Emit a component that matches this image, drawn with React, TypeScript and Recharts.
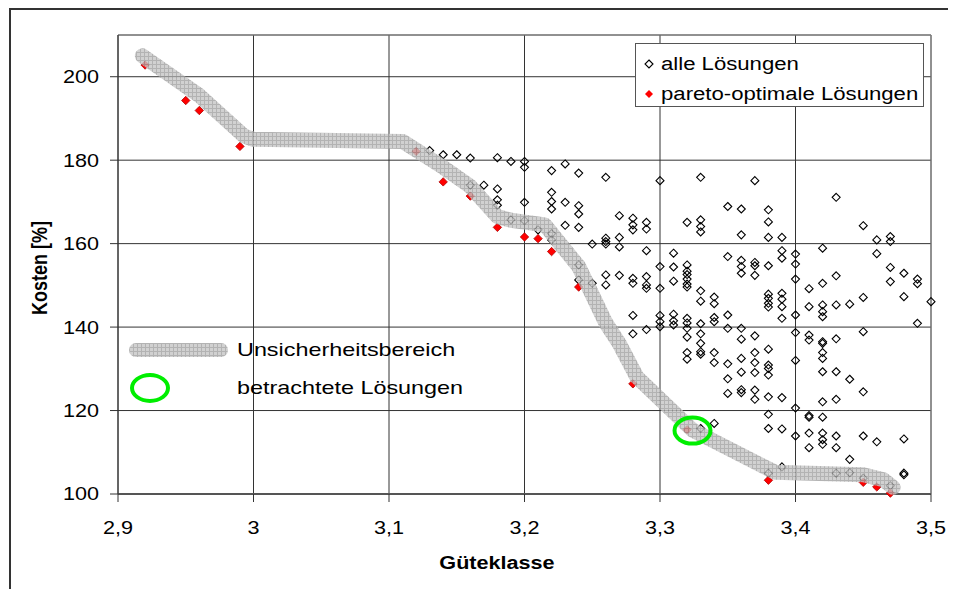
import React from "react";
import {
  ScatterChart,
  Scatter,
  XAxis,
  YAxis,
  CartesianGrid,
  ReferenceLine,
} from "recharts";

// Güteklasse / Kosten [%] aller berechneten Lösungen
const alleLoesungen: [number, number][] = [
  [3.13, 182.3], [3.14, 181.3], [3.15, 181.3], [3.16, 180.5], [3.16, 174], [3.17, 174],
  [3.18, 180.6], [3.18, 173.1], [3.18, 170.5], [3.18, 169.2],
  [3.19, 179.7], [3.19, 165.7],
  [3.2, 179.7], [3.2, 178.3], [3.2, 169.9], [3.2, 165.5],
  [3.21, 163.3],
  [3.22, 177.5], [3.22, 172.3], [3.22, 170.1], [3.22, 168.3], [3.22, 162.4], [3.22, 160.9],
  [3.23, 179.1], [3.23, 169.9], [3.23, 164.4],
  [3.24, 176.9], [3.24, 169.1], [3.24, 167.1], [3.24, 163.9], [3.24, 154.9], [3.24, 151.3],
  [3.25, 159.9], [3.25, 150.5],
  [3.26, 175.9], [3.26, 161.3], [3.26, 160.5], [3.26, 159.9], [3.26, 152.5], [3.26, 150.1],
  [3.27, 166.7], [3.27, 161.5], [3.27, 159.2], [3.27, 152.4],
  [3.28, 166.1], [3.28, 164.5], [3.28, 163.3], [3.28, 151.7], [3.28, 150.5], [3.28, 142.8], [3.28, 138.4],
  [3.29, 165.1], [3.29, 163.5], [3.29, 158.3], [3.29, 152.1], [3.29, 150.1], [3.29, 149.3], [3.29, 139.4],
  [3.3, 175.1], [3.3, 154.5], [3.3, 149.3], [3.3, 142.8], [3.3, 141.3], [3.3, 140.1],
  [3.31, 157.7], [3.31, 154.4], [3.31, 151], [3.31, 143.1], [3.31, 141.5], [3.31, 140.5],
  [3.32, 165.1], [3.32, 154.9], [3.32, 153.4], [3.32, 152.6], [3.32, 151.5], [3.32, 150.3], [3.32, 149.6],
  [3.32, 142.1], [3.32, 141], [3.32, 139.7], [3.32, 137.6], [3.32, 133.9], [3.32, 132.3],
  [3.33, 175.9], [3.33, 165.7], [3.33, 164.1], [3.33, 162.8], [3.33, 148.7], [3.33, 146.2], [3.33, 140.8],
  [3.33, 138.4], [3.33, 136.1], [3.33, 134.1], [3.33, 133.5], [3.33, 115.7],
  [3.34, 147.2], [3.34, 145.6], [3.34, 142.3], [3.34, 141.3], [3.34, 133.9], [3.34, 131.5], [3.34, 116.9],
  [3.35, 168.9], [3.35, 156.9], [3.35, 142.9], [3.35, 139.7], [3.35, 131.2], [3.35, 127.6], [3.35, 124.1],
  [3.36, 168.3], [3.36, 162.1], [3.36, 156], [3.36, 154.5], [3.36, 152.9], [3.36, 139.7], [3.36, 137.1],
  [3.36, 132.5], [3.36, 129.2], [3.36, 125], [3.36, 124.3],
  [3.37, 175.1], [3.37, 155.5], [3.37, 154.7], [3.37, 152.4], [3.37, 137.9], [3.37, 133.9], [3.37, 131.5],
  [3.37, 129.1], [3.37, 124.9], [3.37, 122.7],
  [3.38, 168.1], [3.38, 165.2], [3.38, 161.5], [3.38, 154.7], [3.38, 147.9], [3.38, 146.9], [3.38, 145.7],
  [3.38, 144.8], [3.38, 134.7], [3.38, 130.9], [3.38, 130.1], [3.38, 128.5], [3.38, 123.3], [3.38, 119.1],
  [3.38, 115.7], [3.38, 105],
  [3.39, 161.5], [3.39, 158.3], [3.39, 156.5], [3.39, 148.1], [3.39, 146.7], [3.39, 144.9], [3.39, 142.1],
  [3.39, 123.1], [3.39, 115.6], [3.39, 106.5],
  [3.4, 157.5], [3.4, 155.1], [3.4, 151.5], [3.4, 142.9], [3.4, 138.7], [3.4, 132], [3.4, 120.6], [3.4, 113.9],
  [3.41, 149.2], [3.41, 144.9], [3.41, 138.1], [3.41, 136.9], [3.41, 118.8], [3.41, 118.4], [3.41, 114.6], [3.41, 111.1],
  [3.42, 158.9], [3.42, 150.5], [3.42, 145.3], [3.42, 143.7], [3.42, 142.5], [3.42, 136.5], [3.42, 136.1],
  [3.42, 133.9], [3.42, 132.5], [3.42, 129.3], [3.42, 122.1], [3.42, 118.4], [3.42, 114.6], [3.42, 113], [3.42, 111.9],
  [3.43, 171.1], [3.43, 152.3], [3.43, 145.3], [3.43, 137.2], [3.43, 129.3], [3.43, 122.7], [3.43, 113.9],
  [3.43, 111.1], [3.43, 105],
  [3.44, 145.5], [3.44, 127.5], [3.44, 108.3], [3.44, 105.1],
  [3.45, 164.3], [3.45, 147.1], [3.45, 138.9], [3.45, 124.5], [3.45, 113.9], [3.45, 103.8],
  [3.46, 160.9], [3.46, 157.6], [3.46, 112.5],
  [3.47, 161.7], [3.47, 160.5], [3.47, 154.3], [3.47, 150.9], [3.47, 102],
  [3.48, 152.9], [3.48, 147.3], [3.48, 113.2], [3.48, 105], [3.48, 104.6],
  [3.49, 151.5], [3.49, 150.4], [3.49, 140.9],
  [3.5, 146.1],
];

const paretoLoesungen: [number, number][] = [
  [2.92, 202.8], [2.95, 194.3], [2.96, 191.9], [2.99, 183.3], [3.12, 182.1], [3.14, 174.8],
  [3.16, 171.4], [3.18, 163.9], [3.2, 161.6], [3.21, 161.2], [3.22, 158.1], [3.24, 149.6],
  [3.28, 126.4], [3.32, 115.4], [3.38, 103.3], [3.45, 102.8], [3.46, 101.7], [3.47, 100.2],
];

// Mittellinie des Unsicherheitsbereichs
const unsicherheitsbereich: [number, number][] = [
  [2.918, 205], [2.96, 195.5], [2.993, 185.8], [3.0, 185], [3.11, 184.5], [3.14, 178.3],
  [3.16, 173.7], [3.18, 166.5], [3.19, 165.6], [3.215, 164.5], [3.24, 154.5], [3.26, 141],
  [3.27, 136], [3.283, 128], [3.324, 115.3], [3.385, 105.2], [3.45, 104.6], [3.465, 103.4],
  [3.472, 101.6],
];

const betrachteteLoesungen: [number, number][] = [[3.324, 115.2]];

const xTicks = [2.9, 3, 3.1, 3.2, 3.3, 3.4, 3.5];
const yTicks = [100, 120, 140, 160, 180, 200];

const toPts = (arr: [number, number][]) => arr.map(([x, y]) => ({ x, y }));

const FONT = '"Liberation Sans", Arial, sans-serif';
const fmt = (v: number) => String(Math.round(v * 10) / 10).replace(".", ",");

const XTick = (p: any) => (
  <g transform={`translate(${p.x},${p.y})`}>
    <text transform="scale(1.2,1)" textAnchor="middle" dy="0.71em" fontSize={18} fontFamily={FONT} fill="#000">
      {fmt(p.payload.value)}
    </text>
  </g>
);

const YTick = (p: any) => (
  <g transform={`translate(${p.x},${p.y})`}>
    <text transform="scale(1.2,1)" textAnchor="end" dy="0.36em" fontSize={18} fontFamily={FONT} fill="#000">
      {p.payload.value}
    </text>
  </g>
);

const HollowDiamond = (p: any) => (
  <path
    d={`M${p.cx},${p.cy - 4}L${p.cx + 4},${p.cy}L${p.cx},${p.cy + 4}L${p.cx - 4},${p.cy}Z`}
    fill="none"
    stroke="#000"
    strokeWidth={1.1}
  />
);

const RedDiamond = (p: any) => (
  <path
    d={`M${p.cx},${p.cy - 4.2}L${p.cx + 4.2},${p.cy}L${p.cx},${p.cy + 4.2}L${p.cx - 4.2},${p.cy}Z`}
    fill="#ff0000"
    stroke="#b00000"
    strokeWidth={0.8}
  />
);

const Ellipse = (p: any) => (
  <ellipse cx={p.cx} cy={p.cy} rx={18} ry={13} fill="none" stroke="#00ee00" strokeWidth={4} />
);

const NoDot = () => <g />;

const legendText: React.CSSProperties = {
  position: "absolute",
  fontFamily: FONT,
  fontSize: 18,
  lineHeight: "20px",
  whiteSpace: "nowrap",
  transform: "scaleX(1.23)",
  transformOrigin: "left center",
  color: "#000",
};

export default function App() {
  return (
    <div style={{ position: "relative", width: 948, height: 581, background: "#fff" }}>
      <div style={{ position: "absolute", left: 1, top: 0, width: 947, height: 2, background: "#333" }} />
      <div style={{ position: "absolute", left: 1, top: 0, width: 2, height: 581, background: "#333" }} />

      <ScatterChart width={948} height={581} margin={{ top: 27, right: 25, bottom: 0, left: 0 }}>
        <defs>
          <pattern id="gitter" width="4" height="4" patternUnits="userSpaceOnUse">
            <rect width="4" height="4" fill="#c6c6c6" />
            <path d="M0 0.5H4M0.5 0V4" stroke="#a0a0a0" strokeWidth="1" />
          </pattern>
        </defs>
        <CartesianGrid stroke="#333" />
        <XAxis
          dataKey="x"
          type="number"
          domain={[2.9, 3.5]}
          ticks={xTicks}
          height={95}
          tickSize={8}
          tickMargin={19}
          tick={<XTick />}
          axisLine={{ stroke: "#555", strokeWidth: 2 }}
          tickLine={{ stroke: "#333" }}
        />
        <YAxis
          dataKey="y"
          type="number"
          domain={[100, 210]}
          ticks={yTicks}
          width={110}
          tickSize={8}
          tickMargin={11}
          tick={<YTick />}
          axisLine={{ stroke: "#333" }}
          tickLine={{ stroke: "#333" }}
        />
        <ReferenceLine y={210} stroke="#888" />
        <ReferenceLine x={3.5} stroke="#888" />
        <Scatter data={toPts(alleLoesungen)} shape={<HollowDiamond />} isAnimationActive={false} />
        <Scatter data={toPts(paretoLoesungen)} shape={<RedDiamond />} isAnimationActive={false} />
        <Scatter
          data={toPts(unsicherheitsbereich)}
          shape={<NoDot />}
          line={{
            stroke: "url(#gitter)",
            strokeWidth: 15,
            strokeOpacity: 0.8,
            strokeLinecap: "round",
            strokeLinejoin: "round",
          }}
          lineType="joint"
          isAnimationActive={false}
        />
        <Scatter data={toPts(betrachteteLoesungen)} shape={<Ellipse />} isAnimationActive={false} />
      </ScatterChart>

      {/* Legende oben rechts */}
      <div
        style={{
          position: "absolute",
          left: 627,
          top: 35,
          width: 287,
          height: 62,
          background: "#fff",
          border: "1px solid #555",
        }}
      >
        <svg width={20} height={80} style={{ position: "absolute", left: 3, top: 0 }}>
          <path d="M10,16L14,20L10,24L6,20Z" fill="none" stroke="#000" strokeWidth={1.1} />
          <path d="M10,46L14,50L10,54L6,50Z" fill="#ff0000" />
        </svg>
        <div style={{ ...legendText, left: 25, top: 10 }}>alle Lösungen</div>
        <div style={{ ...legendText, left: 25, top: 40 }}>pareto-optimale Lösungen</div>
      </div>

      {/* Legende unten links */}
      <div
        style={{
          position: "absolute",
          left: 121,
          top: 335,
          width: 99,
          height: 14,
          borderRadius: 7,
          backgroundColor: "#d1d1d1",
          backgroundImage:
            "linear-gradient(#b3b3b3 1px, transparent 1px), linear-gradient(90deg, #b3b3b3 1px, transparent 1px)",
          backgroundSize: "4px 4px",
        }}
      />
      <div style={{ ...legendText, fontSize: 19, left: 229, top: 332 }}>Unsicherheitsbereich</div>
      <div
        style={{
          position: "absolute",
          left: 122,
          top: 365,
          width: 40,
          height: 30,
          boxSizing: "border-box",
          border: "4px solid #00ee00",
          borderRadius: "50%",
        }}
      />
      <div style={{ ...legendText, fontSize: 19, left: 229, top: 370 }}>betrachtete Lösungen</div>

      {/* Achsentitel */}
      <div
        style={{
          position: "absolute",
          left: 489,
          top: 555,
          transform: "translate(-50%,-50%) scaleX(1.2)",
          fontFamily: FONT,
          fontWeight: "bold",
          fontSize: 18,
          whiteSpace: "nowrap",
        }}
      >
        Güteklasse
      </div>
      <div
        style={{
          position: "absolute",
          left: 32,
          top: 260,
          transform: "translate(-50%,-50%) scaleX(1.2) rotate(-90deg)",
          fontFamily: FONT,
          fontWeight: "bold",
          fontSize: 18,
          whiteSpace: "nowrap",
        }}
      >
        Kosten [%]
      </div>
    </div>
  );
}
